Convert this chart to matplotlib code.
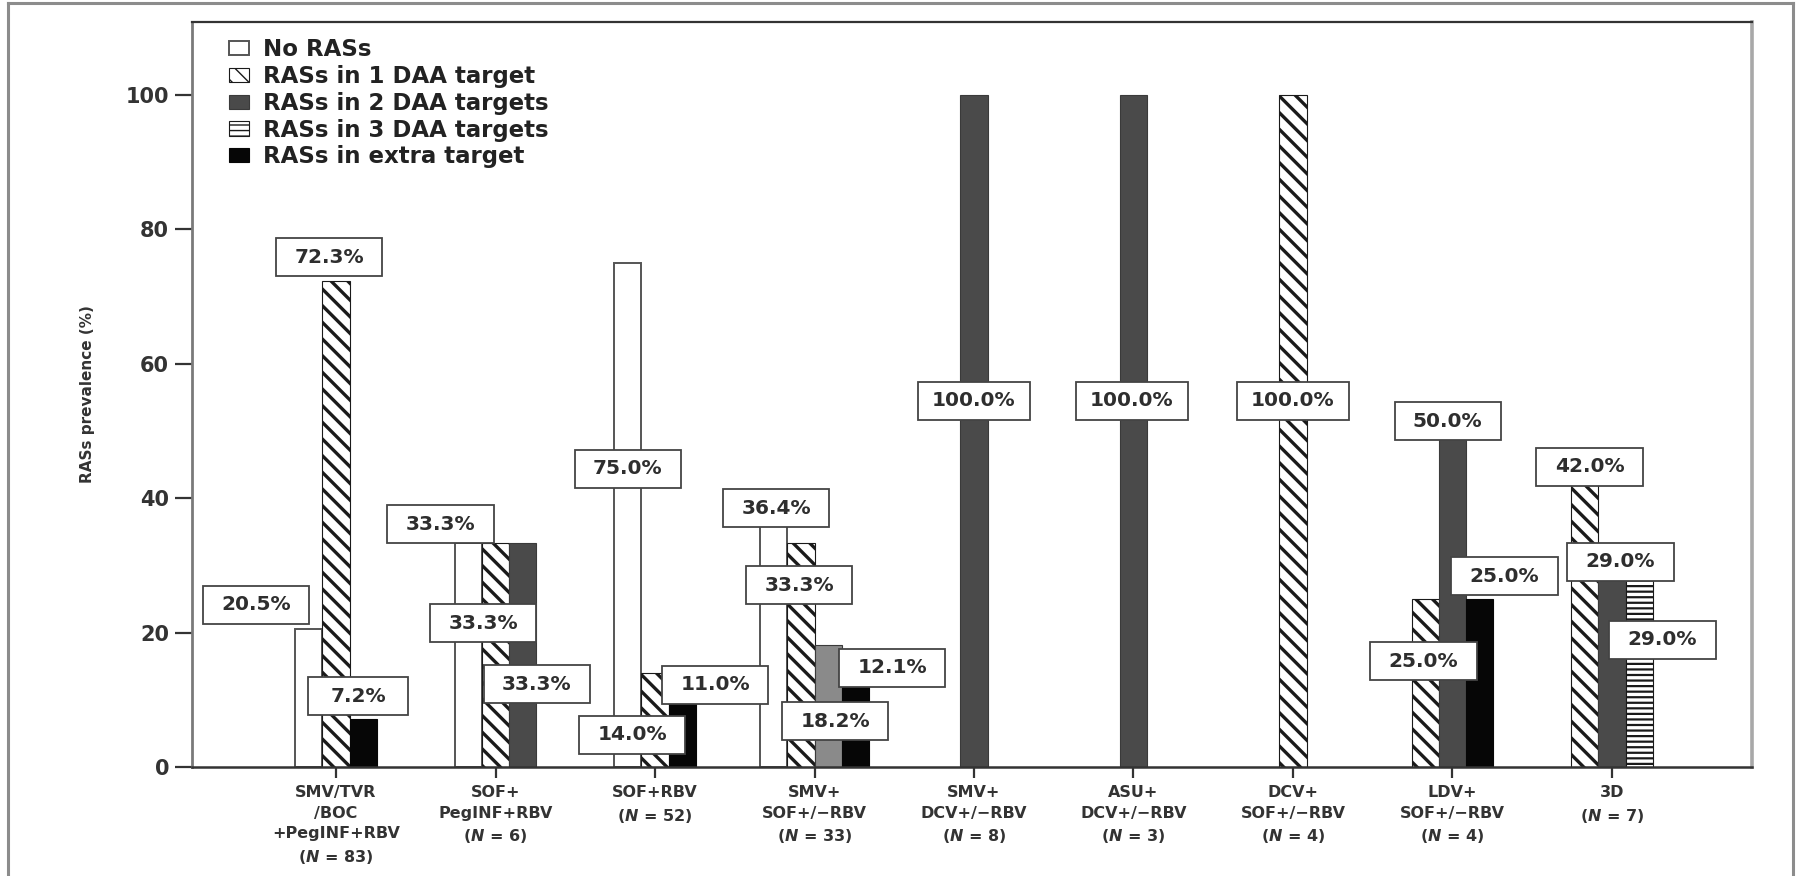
import matplotlib
matplotlib.use("Agg")
import matplotlib.pyplot as plt
from matplotlib.patches import Rectangle, Patch
from matplotlib.lines import Line2D

plt.rcParams['font.family'] = ['DejaVu Sans']
plt.rcParams['mathtext.fontset'] = 'custom'
plt.rcParams['mathtext.it'] = 'DejaVu Sans:italic:bold'
plt.rcParams['mathtext.rm'] = 'DejaVu Sans:bold'
plt.rcParams['mathtext.bf'] = 'DejaVu Sans:bold'

# ---- data -----------------------------------------------------------------
regimens = ["SMV/TVR\n/BOC\n+PegINF+RBV", "SOF+\nPegINF+RBV", "SOF+RBV",
            "SMV+\nSOF+/\u2212RBV", "SMV+\nDCV+/\u2212RBV", "ASU+\nDCV+/\u2212RBV",
            "DCV+\nSOF+/\u2212RBV", "LDV+\nSOF+/\u2212RBV", "3D"]
patients = [83, 6, 52, 33, 8, 3, 4, 4, 7]

series_names = ["No RASs", "RASs in 1 DAA target", "RASs in 2 DAA targets",
                "RASs in 3 DAA targets", "RASs in extra target"]

no_ras    = [20.5, 33.3, 75.0, 36.4, 0, 0, 0, 0, 0]
one_daa   = [72.3, 33.3, 14.0, 33.3, 0, 0, 100.0, 25.0, 42.0]
two_daa   = [0, 33.3, 0, 18.2, 100.0, 100.0, 0, 50.0, 29.0]
three_daa = [0, 0, 0, 0, 0, 0, 0, 0, 29.0]
extra     = [7.2, 0, 11.0, 12.1, 0, 0, 0, 25.0, 0]
series_values = [no_ras, one_daa, two_daa, three_daa, extra]

yticks = [0, 20, 40, 60, 80, 100]

# value-box placement: (group, series, box centre x, box centre y)
label_layout = [
    (0, 0, -0.503, 24.1), (0, 1, -0.044, 75.8), (0, 4, 0.138, 10.5),
    (1, 0, 0.655, 36.1), (1, 1, 0.922, 21.4), (1, 2, 1.26, 12.3),
    (2, 0, 1.83, 44.4), (2, 1, 1.856, 4.8), (2, 4, 2.378, 12.2),
    (3, 0, 2.76, 38.5), (3, 1, 2.903, 27.0), (3, 2, 3.129, 6.8), (3, 4, 3.486, 14.8),
    (4, 2, 4.0, 54.5), (5, 2, 4.99, 54.5), (6, 1, 6.0, 54.5),
    (7, 1, 6.818, 15.7), (7, 2, 6.97, 51.4), (7, 4, 7.326, 28.4),
    (8, 1, 7.859, 44.7), (8, 2, 8.053, 30.5), (8, 3, 8.317, 18.9),
]

# ---- styles ---------------------------------------------------------------
styles = [
    dict(facecolor="white", edgecolor="#555555", hatch=None, lw=1.4, hlw=1.0),
    dict(facecolor="white", edgecolor="#1a1a1a", hatch="\\\\", lw=0.8, hlw=2.4),
    dict(facecolor="#4a4a4a", edgecolor="#3a3a3a", hatch=None, lw=0.8, hlw=1.0),
    dict(facecolor="white", edgecolor="#1a1a1a", hatch="---", lw=0.8, hlw=1.6),
    dict(facecolor="#060606", edgecolor="#060606", hatch=None, lw=0.8, hlw=1.0),
]
face_override = {(3, 2): "#8a8a8a"}
bar_w = 0.17
text_col = "#2e2e2e"

fig = plt.figure(figsize=(18, 8.76), dpi=100)
ax = fig.add_axes([192 / 1800, 109 / 876, 1560 / 1800, 745.5 / 876])
ax.set_xlim(-0.903, 8.878)
ax.set_ylim(0, 110.9)

for g in range(len(regimens)):
    present = [s for s in range(5) if series_values[s][g] > 0]
    n = len(present)
    for k, s in enumerate(present):
        st = styles[s]
        x = g + (k - (n - 1) / 2) * bar_w
        with plt.rc_context({'hatch.linewidth': st['hlw']}):
            ax.bar(x, series_values[s][g], bar_w,
                   facecolor=face_override.get((g, s), st['facecolor']),
                   edgecolor=st['edgecolor'], hatch=st['hatch'],
                   linewidth=st['lw'], zorder=2)

# value labels
texts = []
for g, s, lx, ly in label_layout:
    v = series_values[s][g]
    t = ax.text(lx, ly, f"{v:.1f}%", ha="center", va="center",
                fontsize=14.5, fontweight="bold", color=text_col, zorder=5)
    texts.append((t, lx, ly))

# axes styling
ax.set_yticks(yticks)
ax.set_yticklabels([str(v) for v in yticks])
ax.tick_params(axis="y", length=12, width=1.6, pad=4.5, labelsize=15,
               colors="#333333", direction="out")
for lab in ax.get_yticklabels():
    lab.set_fontweight("bold")
ax.set_xticks(range(len(regimens)))
ax.set_xticklabels([f"{r}\n($\\it{{N}}$ = {n})" for r, n in zip(regimens, patients)],
                   fontsize=11.5, fontweight="bold", color="#333333", linespacing=1.47)
ax.tick_params(axis="x", length=8, width=1.6, pad=5, colors="#333333")

ax.spines["left"].set_color("#7a7a7a"); ax.spines["left"].set_linewidth(2.0)
ax.spines["right"].set_color("#a8a8a8"); ax.spines["right"].set_linewidth(2.6)
ax.spines["top"].set_color("#333333"); ax.spines["top"].set_linewidth(1.6)
ax.spines["bottom"].set_color("#333333"); ax.spines["bottom"].set_linewidth(1.8)

ax.set_ylabel("RASs prevalence (%)", fontsize=11, fontweight="bold", color="#333333")
ax.yaxis.set_label_coords(-0.062, 0.5)

# legend
handles = []
for s, name in enumerate(series_names):
    st = styles[s]
    handles.append(Patch(facecolor=st['facecolor'], edgecolor=st['edgecolor'],
                         hatch=st['hatch'], linewidth=st['lw'], label=name))
leg = ax.legend(handles=handles, loc="upper left", bbox_to_anchor=(0.024, 0.978),
                frameon=False, handlelength=0.87, handleheight=0.57,
                handletextpad=0.6, labelspacing=0.17, borderpad=0, borderaxespad=0,
                prop={"weight": "bold", "size": 16.5})
for t in leg.get_texts():
    t.set_color("#222222")

# boxes behind the value labels
fig.canvas.draw()
renderer = fig.canvas.get_renderer()
inv = ax.transData.inverted()
box_h = 38
for t, lx, ly in texts:
    bb = t.get_window_extent(renderer)
    cx, cy = ax.transData.transform((lx, ly))
    w = 0.45 * bb.width + 75
    x0, y0 = inv.transform((cx - w / 2, cy - box_h / 2))
    x1, y1 = inv.transform((cx + w / 2, cy + box_h / 2))
    ax.add_patch(Rectangle((x0, y0), x1 - x0, y1 - y0, facecolor="white",
                           edgecolor="#444444", linewidth=1.3, zorder=4))

# outer frame
frame_col = "#8c8c8c"
l, r, tp = 7.5 / 1800, 1793 / 1800, 1 - 2.7 / 876
for xs, ys in [([l, l], [0, tp]), ([l, r], [tp, tp]), ([r, r], [tp, 0])]:
    fig.add_artist(Line2D(xs, ys, transform=fig.transFigure, color=frame_col, linewidth=2.2))

fig.savefig("out.png", dpi=100, facecolor="white")
